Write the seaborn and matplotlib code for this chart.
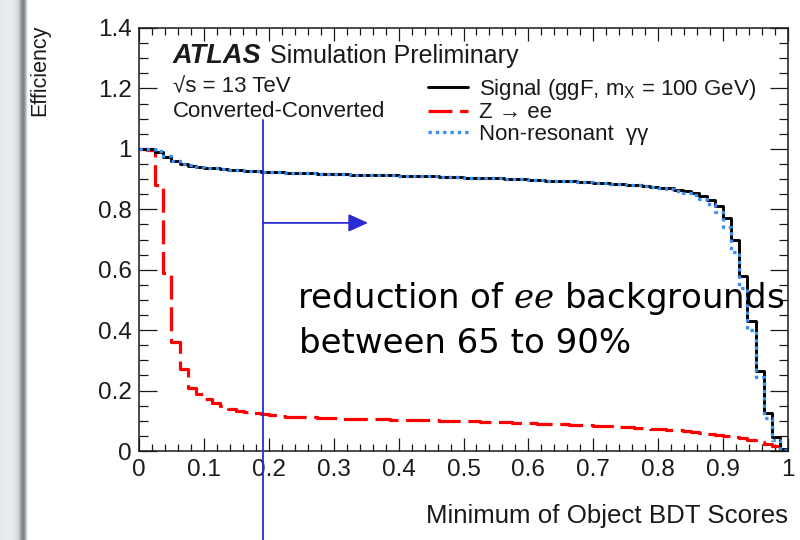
import numpy as np
import pandas as pd
import matplotlib
matplotlib.use("Agg")
import matplotlib.pyplot as plt
import matplotlib.transforms as mtransforms
from matplotlib.ticker import MultipleLocator, FuncFormatter
from matplotlib.font_manager import FontProperties
import seaborn as sns

# ---------------------------------------------------------------- data
# Cumulative efficiency for a cut on the minimum object BDT score,
# 80 uniform bins of width 0.0125 between 0 and 1.
bin_width = 0.0125
bin_count = 80

signal_eff = [
    1.000, 0.998, 0.990, 0.974, 0.960, 0.950, 0.944, 0.940,
    0.937, 0.935, 0.933, 0.931, 0.929, 0.928, 0.926, 0.925,
    0.923, 0.922, 0.921, 0.920, 0.919, 0.919, 0.918, 0.917,
    0.917, 0.916, 0.915, 0.915, 0.914, 0.913, 0.913, 0.912,
    0.911, 0.911, 0.910, 0.909, 0.909, 0.908, 0.907, 0.906,
    0.905, 0.904, 0.903, 0.903, 0.902, 0.901, 0.900, 0.899,
    0.897, 0.896, 0.895, 0.894, 0.893, 0.892, 0.891, 0.889,
    0.887, 0.886, 0.885, 0.883, 0.882, 0.880, 0.878, 0.875,
    0.872, 0.869, 0.865, 0.860, 0.853, 0.845, 0.832, 0.810,
    0.770, 0.700, 0.580, 0.430, 0.265, 0.125, 0.045, 0.006,
]

zee_eff = [
    1.000, 0.995, 0.880, 0.590, 0.360, 0.270, 0.210, 0.190,
    0.172, 0.158, 0.148, 0.140, 0.134, 0.129, 0.125, 0.121,
    0.118, 0.116, 0.114, 0.113, 0.112, 0.111, 0.110, 0.109,
    0.108, 0.107, 0.107, 0.106, 0.106, 0.105, 0.105, 0.104,
    0.103, 0.103, 0.102, 0.102, 0.101, 0.100, 0.100, 0.099,
    0.099, 0.098, 0.097, 0.097, 0.096, 0.095, 0.094, 0.093,
    0.092, 0.091, 0.090, 0.089, 0.088, 0.087, 0.086, 0.085,
    0.084, 0.083, 0.082, 0.080, 0.079, 0.077, 0.076, 0.074,
    0.072, 0.070, 0.068, 0.066, 0.063, 0.060, 0.057, 0.054,
    0.050, 0.046, 0.042, 0.037, 0.031, 0.024, 0.015, 0.006,
]

diphoton_eff = [
    1.000, 0.999, 0.992, 0.976, 0.961, 0.951, 0.945, 0.941,
    0.938, 0.935, 0.933, 0.931, 0.929, 0.928, 0.926, 0.925,
    0.923, 0.922, 0.921, 0.920, 0.919, 0.919, 0.918, 0.917,
    0.917, 0.916, 0.915, 0.915, 0.914, 0.913, 0.913, 0.912,
    0.911, 0.911, 0.910, 0.909, 0.909, 0.908, 0.907, 0.906,
    0.905, 0.904, 0.903, 0.903, 0.902, 0.901, 0.900, 0.899,
    0.897, 0.896, 0.895, 0.894, 0.893, 0.892, 0.891, 0.889,
    0.887, 0.886, 0.885, 0.883, 0.881, 0.879, 0.876, 0.873,
    0.870, 0.866, 0.861, 0.855, 0.846, 0.835, 0.818, 0.790,
    0.740, 0.660, 0.540, 0.400, 0.245, 0.110, 0.035, 0.004,
]

series_labels = [
    "Signal (ggF, m$_{\\mathregular{X}}$ = 100 GeV)",
    "Z \u2192 ee",
    "Non-resonant  \u03b3\u03b3",
]

x_ticks = [0, 0.1, 0.2, 0.3, 0.4, 0.5, 0.6, 0.7, 0.8, 0.9, 1.0]
y_ticks = [0, 0.2, 0.4, 0.6, 0.8, 1.0, 1.2, 1.4]

cut_value = 0.191          # marked BDT cut
cut_arrow_end = 0.353
cut_arrow_level = 0.755

# ---------------------------------------------------------------- style
sns.set_style("ticks")
plt.rcParams["font.family"] = ["Liberation Sans", "DejaVu Sans"]
plt.rcParams["mathtext.fontset"] = "custom"
plt.rcParams["mathtext.rm"] = "Liberation Sans"
plt.rcParams["mathtext.it"] = "Liberation Sans:italic"
plt.rcParams["mathtext.bf"] = "Liberation Sans:bold"

SANS = ["Liberation Sans", "DejaVu Sans"]
C_SIG = "#000000"
C_ZEE = "#ff0000"
C_GG = "#3d8ef0"
C_NOTE = "#2b2bd4"
INK = "#1a1a1a"


def step_frame(values):
    lo = np.arange(bin_count) * bin_width
    x = np.append(lo, 1.0)
    y = np.append(np.asarray(values, dtype=float), values[-1])
    return pd.DataFrame({"score": x, "eff": y})


fig = plt.figure(figsize=(8, 5.4), dpi=100)

# slide edge on the far left
strip = fig.add_axes([0, 0, 34 / 800, 1], zorder=0)
cols = np.array(
    [0.90, 0.91, 0.92, 0.92, 0.91, 0.92, 0.93, 0.92, 0.91, 0.92,
     0.92, 0.91, 0.90, 0.90, 0.89, 0.88, 0.86, 0.84, 0.80, 0.74,
     0.66, 0.58, 0.52, 0.50, 0.56, 0.68, 0.82, 0.93, 0.98, 1.0,
     1.0, 1.0, 1.0, 1.0]
)
rgb = np.stack([cols, cols + 0.01, cols + 0.02], axis=-1).clip(0, 1)
strip.imshow(rgb[None, :, :], aspect="auto", extent=[0, 34, 0, 1])
strip.axis("off")

ax = fig.add_axes([139 / 800, 89 / 540, 649 / 800, 423 / 540], zorder=1)
ax.set_facecolor("white")

zee = step_frame(zee_eff)
sig = step_frame(signal_eff)
gg = step_frame(diphoton_eff)

sns.lineplot(data=zee, x="score", y="eff", ax=ax, color=C_ZEE, lw=2.3,
             linestyle=(0, (7.5, 2.4)), drawstyle="steps-post",
             estimator=None, sort=False, label=series_labels[1])
sns.lineplot(data=sig, x="score", y="eff", ax=ax, color=C_SIG, lw=2.1,
             drawstyle="steps-post", estimator=None, sort=False,
             label=series_labels[0])
sns.lineplot(data=gg, x="score", y="eff", ax=ax, color=C_GG, lw=2.4,
             linestyle=(0, (1.0, 1.2)), drawstyle="steps-post",
             estimator=None, sort=False, label=series_labels[2])

ax.set_xlim(0, 1)
ax.set_ylim(0, 1.4)
ax.set_xlabel("")
ax.set_ylabel("")

ax.set_xticks(x_ticks)
ax.set_yticks(y_ticks)
ax.xaxis.set_minor_locator(MultipleLocator(0.02))
ax.yaxis.set_minor_locator(MultipleLocator(0.05))
fmt = FuncFormatter(lambda v, _: f"{v:g}")
ax.xaxis.set_major_formatter(fmt)
ax.yaxis.set_major_formatter(fmt)

ax.tick_params(which="both", direction="in", top=True, right=True,
               width=0.9, color=INK, labelcolor=INK, labelsize=17.5)
ax.tick_params(axis="x", which="major", length=9.5, pad=6)
ax.tick_params(axis="x", which="minor", length=4.8)
ax.tick_params(axis="y", which="major", length=13, pad=5)
ax.tick_params(axis="y", which="minor", length=6.5)
for lab in ax.get_xticklabels() + ax.get_yticklabels():
    lab.set_family(SANS)
for sp in ax.spines.values():
    sp.set_color(INK)
    sp.set_linewidth(1.1)

# legend
handles, labels = ax.get_legend_handles_labels()
order = [labels.index(l) for l in series_labels]
leg = ax.legend([handles[i] for i in order], [labels[i] for i in order],
                loc="upper left", bbox_to_anchor=(428 / 800, 1 - 77 / 540),
                bbox_transform=fig.transFigure, frameon=False,
                prop=FontProperties(family=SANS, size=16),
                handlelength=1.8, handletextpad=0.5, labelspacing=0.02,
                borderpad=0, borderaxespad=0)
for t in leg.get_texts():
    t.set_color(INK)

# experiment label block
fig.text(173 / 800, 1 - 63 / 540, "ATLAS", family=SANS, size=19.5,
         weight="bold", style="italic", color=INK, va="baseline")
fig.text(270 / 800, 1 - 63 / 540, "Simulation Preliminary", family=SANS,
         size=18, color=INK, va="baseline")
fig.text(173 / 800, 1 - 92 / 540, "\u221as = 13 TeV", family=SANS, size=16,
         color=INK, va="baseline")
fig.text(173 / 800, 1 - 117 / 540, "Converted-Converted", family=SANS,
         size=16, color=INK, va="baseline")

# axis titles
fig.text(788 / 800, 1 - 523 / 540, "Minimum of Object BDT Scores",
         family=SANS, size=18.6, color=INK, ha="right", va="baseline")
fig.text(40 / 800, 1 - 25 / 540, "Efficiency", family=SANS, size=15.5,
         color=INK, rotation=90, ha="center", va="top")

# cut marker and arrow
blend = mtransforms.blended_transform_factory(ax.transData, fig.transFigure)
ax.plot([cut_value, cut_value], [1 - 120 / 540, 0], transform=blend,
        color=C_NOTE, lw=1.3, clip_on=False, zorder=5)
ax.annotate("", xy=(cut_arrow_end, cut_arrow_level),
            xytext=(cut_value, cut_arrow_level),
            arrowprops=dict(arrowstyle="-|>,head_length=0.6,head_width=0.27",
                            mutation_scale=20, color=C_NOTE, lw=1.3,
                            shrinkA=0, shrinkB=0), zorder=5)

note_font = FontProperties(family="DejaVu Sans", size=24.5,
                           math_fontfamily="dejavuserif")
fig.text(297 / 800, 1 - 308 / 540, "reduction of $ee$ backgrounds",
         fontproperties=note_font, color="black", va="baseline", zorder=6)
fig.text(299 / 800, 1 - 353 / 540, "between 65 to 90%",
         fontproperties=note_font, color="black", va="baseline", zorder=6)

fig.savefig("out.png", dpi=100)
